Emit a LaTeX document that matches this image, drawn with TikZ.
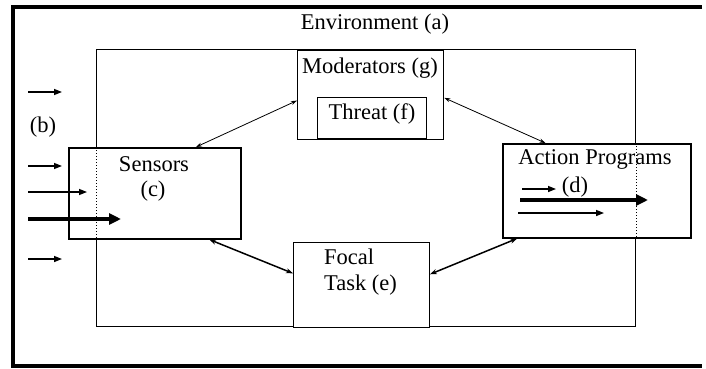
\documentclass[tikz,border=0pt]{standalone}
\usepackage{fontspec}
\setmainfont{Liberation Serif}
\usetikzlibrary{arrows.meta,calc}
\tikzset{
  boxA/.style={draw, line width=1.3pt, fill=white, inner sep=0pt, anchor=north west},
  boxB/.style={draw, line width=0.9pt, fill=white, inner sep=0pt, anchor=north west},
  lbl/.style={inner sep=0pt, font=\fontsize{22.5}{26}\selectfont},
  thinarr/.style={line width=1.4pt, -{Triangle[length=8pt,width=6pt]}},
  thickarr/.style={line width=4pt, -{Triangle[length=12pt,width=11pt]}},
  linkthin/.style={line width=0.8pt, {Stealth[length=6pt,width=4pt]}-{Stealth[length=6pt,width=4pt]}},
  linkthick/.style={line width=1.5pt, {Stealth[length=7pt,width=5pt]}-{Stealth[length=7pt,width=5pt]}},
  dotline/.style={line width=1pt, dotted}
}
\begin{document}
\begin{tikzpicture}[x=1pt,y=-1pt]
\useasboundingbox (0,0) rectangle (706,369);
% environment frame
\draw[line width=3.5pt] (702,7) -- (13,7) -- (13,366) -- (702,366);
\node[lbl] (env) at (375,24) {Environment (a)};
% system box
\node[draw, line width=1.3pt, inner sep=0pt, anchor=north west, minimum width=539pt, minimum height=277pt] (sys) at (96,49) {};
% moderators
\node[boxA, minimum width=146pt, minimum height=89pt] (mod) at (297,50) {};
\node[boxA, minimum width=109pt, minimum height=41pt] (thr) at (317,97) {};
\node[lbl] (modt) at (370,68) {Moderators (g)};
\node[lbl] (thrt) at (372,114) {Threat (f)};
% sensors
\node[boxA, line width=1.5pt, minimum width=172pt, minimum height=91pt] (sens) at (68,147) {};
\draw[dotline] (sens.north -| sys.west) -- (sens.south -| sys.west);
\node[lbl] (senst) at (154,164) {Sensors};
\node[lbl] (sensc) at (153,191) {(c)};
% action programs
\node[boxA, line width=1.5pt, minimum width=188pt, minimum height=94pt] (act) at (502,143) {};
\draw[dotline] (act.north -| sys.east) -- (act.south -| sys.east);
\node[lbl] (actt) at (595,159) {Action Programs};
\node[lbl] (actd) at (575,187) {(d)};
% focal task
\node[boxB, minimum width=136pt, minimum height=85pt] (foc) at (293,242) {};
\node[lbl, anchor=north west, align=left] (foct) at (324,249) {Focal\\Task (e)};
% input arrows
\node[lbl] (b) at (43,127) {(b)};
\draw[thinarr] (28,92) -- (62,92);
\draw[thinarr] (28,166) -- (62,166);
\draw[thinarr] (28,192) -- (87,192);
\draw[thickarr] (28,219) -- (121,219);
\draw[thinarr] (28,259) -- (62,259);
% output arrows
\draw[thinarr] (522,189) -- (556,189);
\draw[thickarr] (520,200) -- (648,200);
\draw[thinarr] (518,213) -- (604,213);
% connectors
\draw[linkthin] ($(sens.north west)!0.738!(sens.north east)$) -- ($(mod.north west)!0.56!(mod.south west)$);
\draw[linkthin] ($(mod.north east)!0.53!(mod.south east)$) -- ($(act.north west)!0.229!(act.north east)$);
\draw[linkthick] ($(sens.south west)!0.814!(sens.south east)$) -- ($(foc.north west)!0.365!(foc.south west)$);
\draw[linkthick] ($(act.south west)!0.08!(act.south east)$) -- ($(foc.north east)!0.376!(foc.south east)$);
\end{tikzpicture}
\end{document}
